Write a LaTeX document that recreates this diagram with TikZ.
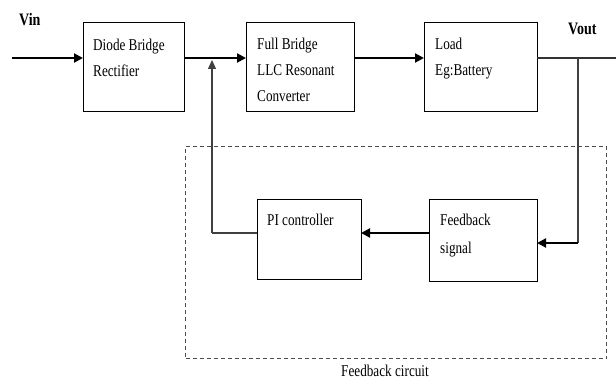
\documentclass[tikz,border=0pt]{standalone}
\usepackage{fontspec}
\setmainfont{Liberation Serif}[FakeStretch=0.8]
\usetikzlibrary{arrows.meta,calc}
\begin{document}
\begin{tikzpicture}[x=1pt,y=-1pt,
  blk/.style={draw,line width=1pt,rectangle,inner sep=0pt,outer sep=0pt,anchor=north west},
  lbl/.style={inner sep=0pt,align=left,anchor=base west,font=\fontsize{16.5}{26}\selectfont},
  ttl/.style={inner sep=0pt,anchor=base west,font=\fontsize{17.5}{18}\selectfont\bfseries},
  wire/.style={line width=2pt},
  arr/.style={wire,-{Triangle[length=9pt,width=9pt]}},
  thinw/.style={line width=1.3pt,draw=black!75}]
\useasboundingbox (0,0) rectangle (616,385);
% boxes
\node[blk,minimum width=101pt,minimum height=89pt] (rect) at (83,23) {};
\node[blk,minimum width=108pt,minimum height=89pt] (llc) at (246,23) {};
\node[blk,minimum width=113pt,minimum height=89pt] (load) at (424,23) {};
\node[blk,minimum width=104pt,minimum height=80pt] (pi) at (257,199) {};
\node[blk,minimum width=108pt,minimum height=82pt] (fb) at (429,199) {};
% labels (anchor = baseline of last line)
\node[lbl] (trect) at ($(rect.north west)+(10,54)$) {Diode Bridge\\Rectifier};
\node[lbl] (tllc) at ($(llc.north west)+(11,79)$) {Full Bridge\\LLC Resonant\\Converter};
\node[lbl] (tload) at ($(load.north west)+(11,53)$) {Load\\Eg:Battery};
\node[lbl] (tpi) at ($(pi.north west)+(10,26)$) {PI controller};
\node[lbl,font=\fontsize{16.5}{28}\selectfont] (tfb) at ($(fb.north west)+(11,54)$) {Feedback\\signal};
\node[ttl] (vin) at (19,26) {Vin};
\node[ttl] (vout) at (568,35) {Vout};
\node[lbl,anchor=base] (fbc) at (385,376) {Feedback circuit};
% dashed feedback region
\node[draw=black!70,dash pattern=on 4pt off 3pt,line width=1pt,rectangle,
  minimum width=421pt,minimum height=212pt,anchor=north west,inner sep=0pt] (fbreg) at (185,146) {};
% coordinates
\coordinate (in) at (12,58);
\coordinate (jn) at (212,58);
\coordinate (outend) at (616,58);
\coordinate (tap) at (578,58);
\coordinate (tapdn) at (578,243);
\coordinate (picorner) at (212,233);
% connectors
\draw[arr] (in) -- (rect.west |- in);
\draw[arr] (rect.east |- in) -- (llc.west |- in);
\draw[arr] (llc.east |- in) -- (load.west |- in);
\draw[wire,draw=black!80] (load.east |- in) -- (outend);
\draw[thinw] (tap) -- (tapdn);
\draw[arr] (tapdn) -- (fb.east |- tapdn);
\draw[arr] (fb.west |- picorner) -- (pi.east |- picorner);
\draw[thinw] (pi.west |- picorner) -- (picorner);
\draw[thinw,-{Triangle[length=9pt,width=8pt]}] (picorner) -- ($(jn)+(0,2)$);
\end{tikzpicture}
\end{document}
